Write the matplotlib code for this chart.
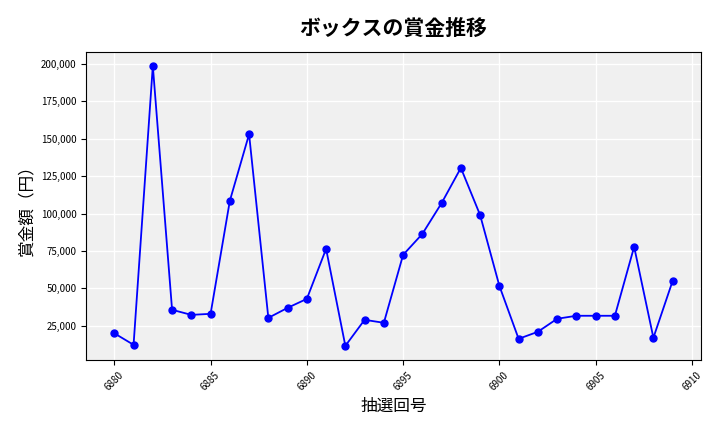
import matplotlib
matplotlib.use("Agg")
import matplotlib.pyplot as plt
from matplotlib.ticker import FuncFormatter

plt.rcParams['font.family'] = ['Noto Sans CJK JP', 'DejaVu Sans']

draws = list(range(6880, 6910))
prizes = [20000, 12300, 198700, 35700, 32300, 33000, 108500, 153000, 30300, 37000,
          43000, 76400, 11600, 29000, 27000, 72400, 86400, 107000, 130500, 99000,
          51700, 16300, 21000, 29700, 31700, 31700, 31700, 77800, 17000, 55000]

fig = plt.figure(figsize=(7.2, 4.32), dpi=100)
ax = fig.add_axes([0.12, 0.167, 0.853, 0.713])
ax.set_facecolor('#f0f0f0')
ax.grid(True, color='white', linewidth=1)
ax.set_axisbelow(True)
ax.plot(draws, prizes, color='blue', marker='o', markersize=5, linewidth=1.3)
ax.set_xticks(range(6880, 6911, 5))
ax.yaxis.set_major_formatter(FuncFormatter(lambda v, p: f"{int(v):,}"))
ax.tick_params(axis='x', labelrotation=45, labelsize=7)
ax.tick_params(axis='y', labelsize=7)
ax.set_title('ボックスの賞金推移', fontsize=15, fontweight='bold', pad=12)
ax.set_xlabel('抽選回号', fontsize=12)
ax.set_ylabel('賞金額（円）', fontsize=12)
fig.savefig('out.png', dpi=100)
